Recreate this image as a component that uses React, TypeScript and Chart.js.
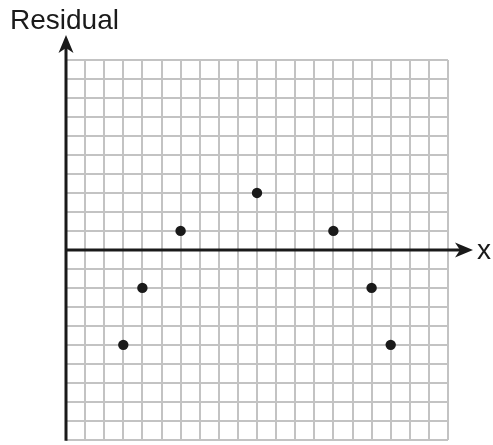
import React, { useEffect, useRef } from "react";
import { Chart, registerables } from "chart.js";

Chart.register(...registerables);

const residualX = [3, 4, 6, 10, 14, 16, 17];
const residualY = [-5, -2, 1, 3, 1, -2, -5];
const xRange = [0, 20];
const yRange = [-10, 10];
const yAxisLabel = "Residual";
const xAxisLabel = "x";

const FONT = '"Liberation Sans", Arial, Helvetica, sans-serif';

function drawArrow(ctx: CanvasRenderingContext2D, tipX: number, tipY: number, dir: "up" | "right") {
  const len = 18;
  const half = 7.5;
  const notch = 5;
  ctx.beginPath();
  if (dir === "up") {
    ctx.moveTo(tipX, tipY);
    ctx.lineTo(tipX + half, tipY + len);
    ctx.lineTo(tipX, tipY + len - notch);
    ctx.lineTo(tipX - half, tipY + len);
  } else {
    ctx.moveTo(tipX, tipY);
    ctx.lineTo(tipX - len, tipY - half);
    ctx.lineTo(tipX - len + notch, tipY);
    ctx.lineTo(tipX - len, tipY + half);
  }
  ctx.closePath();
  ctx.fill();
}

const axesPlugin = {
  id: "residualAxes",
  beforeDatasetsDraw(chart: any) {
    const { ctx, scales } = chart;
    const xs = scales.x;
    const ys = scales.y;
    const x0 = xs.getPixelForValue(0);
    const y0 = ys.getPixelForValue(0);
    ctx.save();
    ctx.strokeStyle = "#1a1a1a";
    ctx.fillStyle = "#1a1a1a";
    ctx.lineWidth = 3;
    // y axis
    ctx.beginPath();
    ctx.moveTo(x0, ys.bottom + 1);
    ctx.lineTo(x0, 45);
    ctx.stroke();
    drawArrow(ctx, x0, 35, "up");
    // x axis
    ctx.beginPath();
    ctx.moveTo(x0 - 1, y0);
    ctx.lineTo(462, y0);
    ctx.stroke();
    drawArrow(ctx, 473, y0, "right");
    // labels
    ctx.font = `28px ${FONT}`;
    ctx.textBaseline = "alphabetic";
    ctx.textAlign = "left";
    ctx.fillText(yAxisLabel, 10, 29);
    ctx.textBaseline = "middle";
    ctx.fillText(xAxisLabel, 477, y0 + 1);
    ctx.restore();
  },
};

export default function App() {
  const canvasRef = useRef<HTMLCanvasElement | null>(null);

  useEffect(() => {
    if (!canvasRef.current) return;
    const chart = new Chart(canvasRef.current, {
      type: "scatter",
      data: {
        datasets: [
          {
            data: residualX.map((x, i) => ({ x, y: residualY[i] })),
            backgroundColor: "#1a1a1a",
            borderWidth: 0,
            pointRadius: 5.2,
            clip: false as any,
          },
        ],
      },
      options: {
        responsive: false,
        animation: false,
        layout: { padding: { left: 66, right: 45, top: 60, bottom: 2 } },
        plugins: { legend: { display: false }, tooltip: { enabled: false } },
        scales: {
          x: {
            type: "linear",
            min: xRange[0],
            max: xRange[1],
            ticks: { display: false, stepSize: 1 },
            grid: { color: "#c3c3c3", lineWidth: 2, drawTicks: false },
            border: { display: false },
            afterFit: (scale: any) => {
              scale.height = 0;
            },
          },
          y: {
            type: "linear",
            min: yRange[0],
            max: yRange[1],
            ticks: { display: false, stepSize: 1 },
            grid: { color: "#c3c3c3", lineWidth: 2, drawTicks: false },
            border: { display: false },
            afterFit: (scale: any) => {
              scale.width = 0;
            },
          },
        },
      },
      plugins: [axesPlugin],
    });
    return () => chart.destroy();
  }, []);

  return (
    <div style={{ position: "absolute", left: 0, top: 0, width: 493, height: 445, background: "#fff" }}>
      <canvas ref={canvasRef} width={493} height={445} style={{ display: "block" }} />
    </div>
  );
}
